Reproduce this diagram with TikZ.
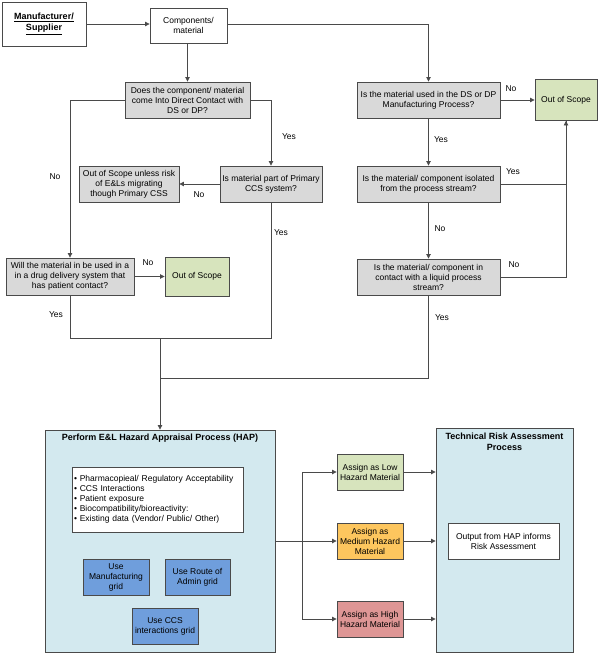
\documentclass[tikz,border=0pt]{standalone}
\usepackage{fontspec}
\setmainfont{Liberation Sans}
\usetikzlibrary{arrows.meta}
\definecolor{qgray}{HTML}{D9D9D9}
\definecolor{okgreen}{HTML}{D7E4BD}
\definecolor{hapblue}{HTML}{D3E9EF}
\definecolor{gridblue}{HTML}{6F9EDC}
\definecolor{medor}{HTML}{FDC65E}
\definecolor{highred}{HTML}{DE9695}
\definecolor{edge}{HTML}{4A4A4A}
\tikzset{
  box/.style={draw=edge, line width=0.9pt, align=center, inner sep=1pt, font=\fontsize{8.5}{10}\selectfont},
  wbox/.style={box, fill=white},
  qbox/.style={box, fill=qgray},
  gbox/.style={box, fill=okgreen},
  bbox/.style={box, fill=gridblue},
  arr/.style={draw=edge, line width=0.8pt, -{Triangle[length=4.5pt,width=4.5pt]}},
  ln/.style={draw=edge, line width=0.8pt},
  lbl/.style={font=\fontsize{8.5}{10}\selectfont, inner sep=0pt},
}
\begin{document}
\begin{tikzpicture}[x=1pt,y=-1pt]
\useasboundingbox (0,0) rectangle (600,655);
% top row
\node[wbox, minimum width=84, minimum height=44, font=\fontsize{9}{11}\selectfont\bfseries] (manu) at (44,24) {\underline{Manufacturer/}\\\underline{Supplier}};
\node[wbox, minimum width=77, minimum height=35] (comp) at (188.5,25.5) {Components/\\material};
% left branch
\node[qbox, minimum width=125, minimum height=36] (q1) at (187.5,100) {Does the component/ material\\come Into Direct Contact with\\DS or DP?};
\node[qbox, minimum width=102, minimum height=36] (q2) at (271,184) {Is material part of Primary\\CCS system?};
\node[qbox, minimum width=100, minimum height=36] (oos1) at (129,184) {Out of Scope unless risk\\of E\&Ls migrating\\though Primary CSS};
\node[qbox, minimum width=128, minimum height=37] (q4) at (70,276.5) {Will the material in be used in a\\in a drug delivery system that\\has patient contact?};
\node[gbox, minimum width=64, minimum height=39] (oos2) at (197,276.5) {Out of Scope};
% right branch
\node[qbox, minimum width=143, minimum height=36] (qr1) at (428.5,100) {Is the material used in the DS or DP\\Manufacturing Process?};
\node[gbox, minimum width=62, minimum height=41] (oos3) at (566,100) {Out of Scope};
\node[qbox, minimum width=143, minimum height=36] (qr2) at (428.5,184) {Is the material/ component isolated\\from the process stream?};
\node[qbox, minimum width=143, minimum height=36] (qr3) at (428.5,277) {Is the material/ component in\\contact with a liquid process\\stream?};
% HAP
\node[box, fill=hapblue, minimum width=230, minimum height=222] (hap) at (160,541) {};
\node[lbl, font=\fontsize{9}{10}\selectfont\bfseries] (haptitle) at (160,438) {Perform E\&L Hazard Appraisal Process (HAP)};
\node[wbox, minimum width=171, minimum height=65, align=left, text width=167] (bul) at (157.5,499.5) {\textbullet\ Pharmacopieal/ Regulatory Acceptability\\\textbullet\ CCS Interactions\\\textbullet\ Patient exposure\\\textbullet\ Biocompatibility/bioreactivity:\\\textbullet\ Existing data (Vendor/ Public/ Other)};
\node[bbox, minimum width=66, minimum height=36] (g1) at (116,577) {Use\\Manufacturing\\grid};
\node[bbox, minimum width=65, minimum height=36] (g2) at (197.5,577) {Use Route of\\Admin grid};
\node[bbox, minimum width=66, minimum height=36] (g3) at (165,626) {Use CCS\\interactions grid};
% hazard classes
\node[gbox, minimum width=66, minimum height=36] (low) at (370,472) {Assign as Low\\Hazard Material};
\node[box, fill=medor, minimum width=66, minimum height=36] (med) at (370,541) {Assign as\\Medium Hazard\\Material};
\node[box, fill=highred, minimum width=66, minimum height=36] (high) at (370,619) {Assign as High\\Hazard Material};
% TRA
\node[box, fill=hapblue, minimum width=137, minimum height=224] (tra) at (504.5,540) {};
\node[lbl, font=\fontsize{9}{11}\selectfont\bfseries, align=center] (tratitle) at (504.5,442) {Technical Risk Assessment\\Process};
\node[wbox, minimum width=111, minimum height=36] (out) at (503.5,541) {Output from HAP informs\\Risk Assessment};
% coordinates
\coordinate (m1) at (160,338);
\coordinate (m2) at (160,378);
\coordinate (sp) at (302,541);
% connectors top
\draw[arr] (manu.east) -- (manu.east -| comp.west);
\draw[arr] (comp.east |- 0,24) -| (qr1.north);
\draw[arr] (comp.south -| q1.north) -- (q1.north);
\draw[arr] (q1.west) -| (q4.north);
\draw[arr] (q1.east) -| (q2.north);
\draw[arr] (q2.west) -- (oos1.east);
\draw[arr] (q4.east) -- (oos2.west);
\draw[arr] (qr1.east) -- (oos3.west);
\draw[arr] (qr1.south) -- (qr2.north);
\draw[arr] (qr2.south) -- (qr3.north);
\draw[arr] (qr2.east) -| (oos3.south);
\draw[ln] (qr3.east) -| (oos3.south);
\draw[ln] (q4.south) |- (m1);
\draw[ln] (q2.south) |- (m1);
\draw[ln] (qr3.south) |- (m2);
\draw[arr] (m1) -- (hap.north);
% labels
\node[lbl] (l1) at (55,177) {No};
\node[lbl] (l2) at (289,137) {Yes};
\node[lbl] (l3) at (199,195) {No};
\node[lbl] (l4) at (281,233) {Yes};
\node[lbl] (l5) at (148,263) {No};
\node[lbl] (l6) at (56,315) {Yes};
\node[lbl] (l7) at (511,89) {No};
\node[lbl] (l8) at (441,140) {Yes};
\node[lbl] (l9) at (513,172) {Yes};
\node[lbl] (l10) at (440,229) {No};
\node[lbl] (l11) at (514,265) {No};
\node[lbl] (l12) at (442,318) {Yes};
% HAP to hazards
\draw[ln] (hap.east |- sp) -- (sp);
\draw[ln] (sp |- low.west) -- (sp |- high.west);
\draw[arr] (sp |- low.west) -- (low.west);
\draw[arr] (sp |- med.west) -- (med.west);
\draw[arr] (sp |- high.west) -- (high.west);
\draw[arr] (low.east) -- (low.east -| tra.west);
\draw[arr] (med.east) -- (med.east -| tra.west);
\draw[arr] (high.east) -- (high.east -| tra.west);
\end{tikzpicture}
\end{document}
